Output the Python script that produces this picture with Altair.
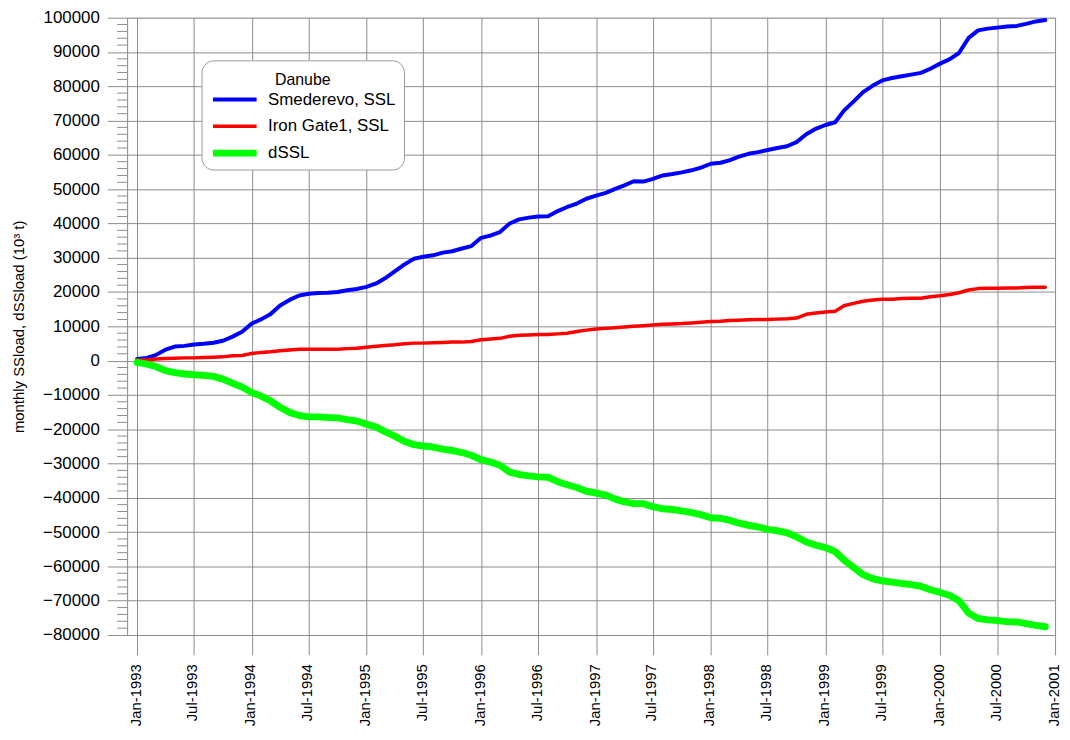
import altair as alt
import pandas as pd

# ---------------- data ----------------
months = pd.date_range("1993-01-01", "2000-12-01", freq="MS").strftime("%Y-%m-%d").tolist()

series_names = ["Smederevo, SSL", "Iron Gate1, SSL", "dSSL"]

smederevo = [
    500, 800, 1600, 3200, 4100, 4300, 4700, 4900, 5200, 5800, 7000, 8400,
    10800, 12100, 13500, 16100, 17700, 19000, 19500, 19700, 19800, 20000, 20500, 20900,
    21500, 22500, 24000, 26000, 28000, 29700, 30300, 30700, 31500, 31900, 32700, 33400,
    35800, 36500, 37500, 40000, 41200, 41700, 42000, 42100, 43600, 44800, 45800, 47200,
    48100, 48900, 50000, 51100, 52300, 52200, 53000, 54000, 54400, 54900, 55500, 56300,
    57400, 57700, 58400, 59500, 60300, 60800, 61400, 62000, 62500, 63700, 66000, 67600,
    68700, 69500, 72900, 75600, 78300, 80200, 81700, 82400, 82900, 83400, 83900, 85100,
    86600, 87900, 89700, 94100, 96300, 96800, 97100, 97400, 97600, 98200, 98900, 99300,
]

iron_gate = [
    200, 200, 500, 600, 700, 800, 800, 900, 1000, 1100, 1400, 1500,
    2100, 2400, 2600, 2900, 3100, 3300, 3300, 3300, 3300, 3300, 3500, 3600,
    3900, 4200, 4400, 4600, 4900, 5100, 5100, 5200, 5300, 5400, 5400, 5600,
    6100, 6300, 6500, 7100, 7400, 7500, 7600, 7600, 7800, 8000, 8500, 8900,
    9200, 9400, 9600, 9800, 10000, 10200, 10400, 10600, 10700, 10800, 11000, 11200,
    11400, 11500, 11700, 11800, 11900, 12000, 12000, 12100, 12200, 12400, 13500, 13900,
    14200, 14400, 16000, 16700, 17300, 17700, 17900, 17900, 18100, 18200, 18200, 18600,
    18900, 19300, 19800, 20600, 21000, 21100, 21100, 21200, 21200, 21300, 21400, 21400,
]

dssl = [
    -500, -1000, -1700, -2900, -3500, -3900, -4100, -4300, -4600, -5400, -6600, -7700,
    -9300, -10400, -11700, -13600, -15100, -16000, -16400, -16400, -16600, -16700, -17200, -17600,
    -18500, -19400, -20700, -22000, -23500, -24500, -24900, -25200, -25800, -26200, -26800, -27600,
    -28900, -29600, -30500, -32500, -33200, -33600, -33900, -34000, -35300, -36200, -37000, -38100,
    -38600, -39200, -40300, -41200, -41700, -41700, -42600, -43200, -43400, -43800, -44300, -44900,
    -45800, -46000, -46500, -47400, -48000, -48500, -49200, -49600, -50200, -51400, -52900, -53800,
    -54500, -55700, -58100, -60300, -62400, -63600, -64200, -64600, -65000, -65300, -65800, -66800,
    -67600, -68500, -70000, -73600, -75200, -75600, -75800, -76100, -76200, -76700, -77200, -77600,
]

x_tick_dates = [
    "1993-01-01", "1993-07-01", "1994-01-01", "1994-07-01", "1995-01-01", "1995-07-01",
    "1996-01-01", "1996-07-01", "1997-01-01", "1997-07-01", "1998-01-01", "1998-07-01",
    "1999-01-01", "1999-07-01", "2000-01-01", "2000-07-01", "2001-01-01",
]
x_domain_dates = ["1992-11-30", "2001-01-01"]

y_ticks = list(range(-80000, 100001, 10000))
y_minor_ticks = [v for v in range(-80000, 100001, 2000) if v % 10000 != 0]

colors = ["#0000ff", "#ff0000", "#00ff00"]
widths = [4, 3.5, 7]

# ---------------- tables ----------------
def ms(d):
    return int(pd.Timestamp(d, tz="UTC").timestamp() * 1000)

rows = []
for name, vals in zip(series_names, [smederevo, iron_gate, dssl]):
    for d, v in zip(months, vals):
        rows.append({"date": d, "value": v, "series": name})
df = pd.DataFrame(rows)

minor_df = pd.DataFrame({"value": y_minor_ticks})

FONT = "Liberation Sans"
GRID = "#8c8c8c"

y_scale = alt.Scale(domain=[-80000, 100000], nice=False, zero=False)

y_axis = alt.Axis(
    values=y_ticks, format="d", labelFontSize=17, labelFont=FONT,
    labelColor="#000000", labelPadding=8, tickSize=20, tickColor=GRID,
    domainColor=GRID, grid=True, gridColor=GRID, gridWidth=1,
    title="monthly SSload, dSSload (10³ t)", titleFont=FONT, titleFontSize=15,
    titleFontWeight="normal", titleColor="#000000", titlePadding=16,
    labelOverlap=False, labelFlush=False, labelBound=False,
)

legend = alt.Legend(
    title="Danube", orient="none", legendX=75, legendY=43, direction="vertical",
    titleAnchor="middle", titleFontWeight="normal", titleFontSize=16, titleColor="#000000",
    titleFont=FONT, titlePadding=8, titleBaseline="line-top", titleLineHeight=24,
    labelFontSize=17, labelFont=FONT, labelColor="#000000", labelOffset=8,
    symbolType="stroke", symbolSize=1936, rowPadding=9, clipHeight=15,
    strokeColor="#9a9a9a", cornerRadius=12, fillColor="#ffffff", padding=8,
)

lines = alt.Chart(df).mark_line(strokeJoin="round", strokeCap="round").encode(
    x=alt.X(
        "date:T",
        scale=alt.Scale(type="utc", domain=[ms(d) for d in x_domain_dates], nice=False),
        axis=alt.Axis(
            values=[ms(d) for d in x_tick_dates],
            labelExpr="utcFormat(datum.value, '%b-%Y')",
            labelAngle=270, labelFontSize=15, labelFont=FONT, labelColor="#000000",
            labelPadding=9, tickSize=20, tickColor=GRID, domainColor=GRID,
            grid=True, gridColor=GRID, gridWidth=1, title=None, labelOverlap=False,
            labelBound=False, labelFlush=False, labelOffset=-2,
        ),
    ),
    y=alt.Y("value:Q", scale=y_scale, axis=y_axis),
    color=alt.Color("series:N", scale=alt.Scale(domain=series_names, range=colors), legend=legend),
    strokeWidth=alt.StrokeWidth(
        "series:N", scale=alt.Scale(type="ordinal", domain=series_names, range=widths), legend=legend
    ),
    order=alt.Order("date:T"),
)

minor = alt.Chart(minor_df).mark_rule(color=GRID, strokeWidth=1).encode(
    y=alt.Y("value:Q", scale=y_scale, axis=y_axis),
    x=alt.value(-10),
    x2=alt.value(0),
)

chart = alt.layer(lines, minor).properties(
    width=935, height=622,
    autosize=alt.AutoSizeParams(type="none"),
    padding={"left": 120, "top": 7, "right": 7, "bottom": 95},
).configure_view(stroke=None).configure(font=FONT)

chart.save("out.html", embed_options={"renderer": "svg", "actions": False})
